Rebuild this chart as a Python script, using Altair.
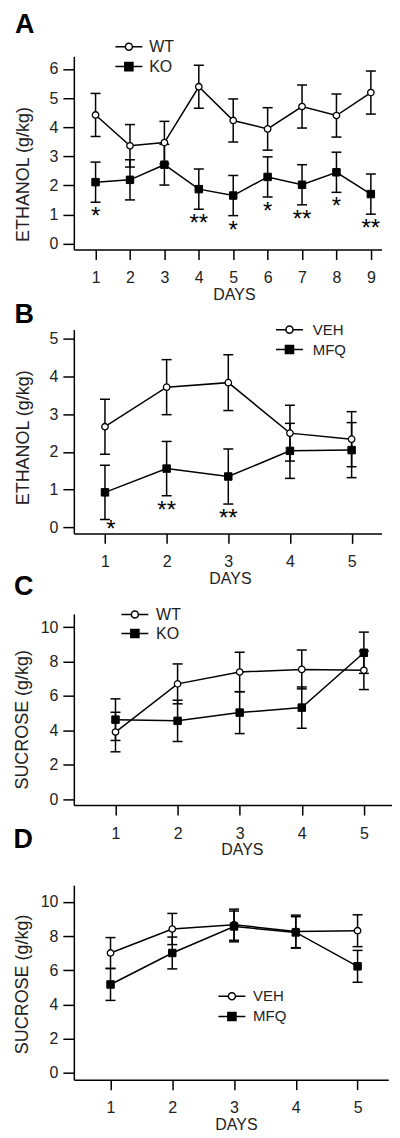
import altair as alt
import pandas as pd

FONT = "Liberation Sans"

# ---------------- data ----------------
a_days = [1, 2, 3, 4, 5, 6, 7, 8, 9]
a_wt = [4.42, 3.36, 3.47, 5.39, 4.23, 3.94, 4.71, 4.40, 5.19]
a_wt_sem = [0.74, 0.73, 0.73, 0.74, 0.74, 0.73, 0.74, 0.74, 0.74]
a_ko = [2.11, 2.19, 2.71, 1.87, 1.65, 2.29, 2.02, 2.45, 1.70]
a_ko_sem = [0.69, 0.69, 0.70, 0.69, 0.69, 0.69, 0.69, 0.69, 0.69]
a_stars = ["*", "", "", "**", "*", "*", "**", "*", "**"]

b_days = [1, 2, 3, 4, 5]
b_veh = [2.67, 3.72, 3.84, 2.50, 2.34]
b_veh_sem = [0.73, 0.73, 0.74, 0.74, 0.73]
b_mfq = [0.93, 1.56, 1.35, 2.03, 2.05]
b_mfq_sem = [0.72, 0.72, 0.73, 0.73, 0.73]
b_stars = ["*", "**", "**", "", ""]

c_days = [1, 2, 3, 4, 5]
c_wt = [3.90, 6.70, 7.39, 7.54, 7.49]
c_wt_sem = [1.15, 1.16, 1.15, 1.13, 1.12]
c_ko = [4.62, 4.55, 5.03, 5.32, 8.51]
c_ko_sem = [1.21, 1.20, 1.22, 1.20, 1.20]

d_days = [1, 2, 3, 4, 5]
d_veh = [7.01, 8.41, 8.66, 8.27, 8.31]
d_veh_sem = [0.90, 0.91, 0.91, 0.95, 0.93]
d_mfq = [5.17, 7.01, 8.56, 8.21, 6.23]
d_mfq_sem = [0.93, 0.93, 0.90, 0.92, 0.93]

# legend symbols: line through an open circle / a filled square
CIRCLE_PATH = ("M-2.5,0H-0.65M0.65,0H2.5M-0.65,0A0.65,0.65,0,1,1,0.65,0"
               "A0.65,0.65,0,1,1,-0.65,0Z")
SQUARE_PATH = "M-2.5,0H2.5M-0.75,-0.75H0.75V0.75H-0.75Z"


def panel(letter, days, g1, m1, s1, g2, m2, s2, stars, ytitle,
          xdom, ydom, yvals, w, h, leg, star_special=False):
    rows = []
    for d, m, s in zip(days, m1, s1):
        rows.append(dict(day=d, group=g1, mean=m, lo=m - s, hi=m + s, star=""))
    for d, m, s, st in zip(days, m2, s2, stars):
        rows.append(dict(day=d, group=g2, mean=m, lo=m - s, hi=m + s, star=st))
    df = pd.DataFrame(rows)

    xaxis = alt.Axis(values=days, title="DAYS", titleX=leg["days_x"],
                     titleY=leg.get("days_y", 45),
                     titleAlign="center", titleBaseline="middle")
    yaxis = alt.Axis(values=yvals, title=ytitle, titleX=leg["yt_x"],
                     titleY=leg["yt_y"], titleAngle=270, titleAlign="center",
                     titleBaseline="middle")
    xs = alt.Scale(domain=xdom, nice=False, zero=False)
    ys = alt.Scale(domain=ydom, nice=False, zero=False)

    def X():
        return alt.X("day:Q", scale=xs, axis=xaxis)

    def Y(f):
        return alt.Y(f"{f}:Q", scale=ys, axis=yaxis)

    base = alt.Chart(df)
    bars = base.mark_rule(color="black", strokeWidth=1.5).encode(
        x=X(), y=Y("lo"), y2="hi:Q")
    cap_lo = base.mark_tick(orient="horizontal", size=10, thickness=1.5,
                            color="black", opacity=1).encode(x=X(), y=Y("lo"))
    cap_hi = base.mark_tick(orient="horizontal", size=10, thickness=1.5,
                            color="black", opacity=1).encode(x=X(), y=Y("hi"))
    lines = base.mark_line(color="black", strokeWidth=1.5).encode(
        x=X(), y=Y("mean"), detail="group:N", order="day:Q")
    pts1 = base.transform_filter(alt.datum.group == g1).mark_point(
        shape="circle", filled=True, fill="white", stroke="black",
        strokeWidth=1.3, size=42, opacity=1).encode(x=X(), y=Y("mean"))
    pts2 = base.transform_filter(alt.datum.group == g2).mark_point(
        shape="square", filled=True, fill="black", stroke="black",
        strokeWidth=1, size=56, opacity=1).encode(x=X(), y=Y("mean"))

    legend = alt.Legend(title=None, orient="none", legendX=leg["lx"],
                        legendY=leg["ly"], symbolSize=117,
                        symbolStrokeWidth=1.5, symbolStrokeColor="black",
                        labelFont=FONT, labelFontSize=leg["fs"],
                        labelColor="#222", labelOffset=leg["lo"],
                        rowPadding=leg["rp"], padding=0)
    dom = [g1, g2]
    carrier = base.transform_filter("datum.day < -100").mark_point(
        strokeWidth=1.5, opacity=1).encode(
        x=X(), y=Y("mean"),
        shape=alt.Shape("group:N", scale=alt.Scale(domain=dom,
                        range=[CIRCLE_PATH, SQUARE_PATH]), legend=legend),
        fill=alt.Fill("group:N", scale=alt.Scale(domain=dom,
                      range=["white", "black"]), legend=legend),
        stroke=alt.Stroke("group:N", scale=alt.Scale(domain=dom,
                          range=["black", "black"]), legend=legend))

    layers = [bars, cap_lo, cap_hi, lines, pts1, pts2, carrier]
    if star_special:
        first = base.transform_filter(
            (alt.datum.group == g2) & (alt.datum.day == days[0])
        ).mark_text(font=FONT, fontSize=24, baseline="top", align="center",
                    dx=6, dy=-1, color="black").encode(
            x=X(), y=Y("lo"), text="star:N")
        rest = base.transform_filter(
            (alt.datum.group == g2) & (alt.datum.star != "") & (alt.datum.day != days[0])
        ).mark_text(font=FONT, fontSize=24, baseline="top", align="center",
                    dy=3, color="black").encode(
            x=X(), y=Y("lo"), text="star:N")
        layers += [first, rest]
    elif any(stars):
        st = base.transform_filter(
            (alt.datum.group == g2) & (alt.datum.star != "")
        ).mark_text(font=FONT, fontSize=24, baseline="top", align="center",
                    dy=3, color="black").encode(
            x=X(), y=Y("lo"), text="star:N")
        layers.append(st)

    return alt.layer(*layers).properties(
        width=w, height=h,
        title=alt.TitleParams(letter, anchor="start", font=FONT, fontSize=27,
                              fontWeight="bold", color="black",
                              dx=leg["tdx"], dy=leg["tdy"], offset=0))


pA = panel("A", a_days, "WT", a_wt, a_wt_sem, "KO", a_ko, a_ko_sem, a_stars,
           "ETHANOL (g/kg)", [0.368, 9.31], [-0.206, 6.435], [0, 1, 2, 3, 4, 5, 6],
           308.5, 193.7,
           dict(days_x=160.5, yt_x=-50, yt_y=118, lx=47.2, ly=-17.7, fs=16,
                lo=12.3, rp=4, tdx=0, tdy=0))
pB = panel("B", b_days, "VEH", b_veh, b_veh_sem, "MFQ", b_mfq, b_mfq_sem, b_stars,
           "ETHANOL (g/kg)", [0.495, 5.485], [-0.159, 5.246], [0, 1, 2, 3, 4, 5],
           308.5, 204.3,
           dict(days_x=156.5, yt_x=-50.5, yt_y=108, lx=208.7, ly=-7.5, fs=15,
                lo=15.8, rp=4, tdx=0, tdy=7), star_special=True)
pC = panel("C", c_days, "WT", c_wt, c_wt_sem, "KO", c_ko, c_ko_sem, [""] * 5,
           "SUCROSE (g/kg)", [0.329, 5.445], [-0.348, 10.77], [0, 2, 4, 6, 8, 10],
           318.5, 191.7,
           dict(days_x=168.5, yt_x=-51, yt_y=105.7, lx=53.2, ly=-7.3, fs=16,
                lo=13.3, rp=3, tdx=0, tdy=-5.3))
pD = panel("D", d_days, "VEH", d_veh, d_veh_sem, "MFQ", d_mfq, d_mfq_sem, [""] * 5,
           "SUCROSE (g/kg)", [0.406, 5.496], [-0.39, 10.97], [0, 2, 4, 6, 8, 10],
           315.2, 195.0,
           dict(days_x=162.5, days_y=44.5, yt_x=-51.5, yt_y=99, lx=151, ly=103.8,
                fs=15, lo=13.7, rp=4.3, tdx=0, tdy=-31.4))

chart = alt.vconcat(pA, pB, pC, pD, spacing=80, bounds="flush").resolve_scale(
    shape="independent", fill="independent", stroke="independent"
).resolve_legend(
    shape="independent", fill="independent", stroke="independent"
).properties(
    padding={"left": 5, "top": 1, "right": 0, "bottom": -1}
).configure_view(stroke=None).configure_axis(
    grid=False, domainColor="black", domainWidth=1.5, tickColor="black",
    tickWidth=1.5, labelFont=FONT, titleFont=FONT, labelFontSize=16,
    titleFontSize=16, titleFontWeight="normal", labelColor="#222",
    titleColor="#222"
).configure_axisX(tickSize=10, labelPadding=10).configure_axisY(
    tickSize=11, labelPadding=5, titleFontSize=18)

chart.save("out.html", embed_options={"renderer": "svg", "actions": False})
